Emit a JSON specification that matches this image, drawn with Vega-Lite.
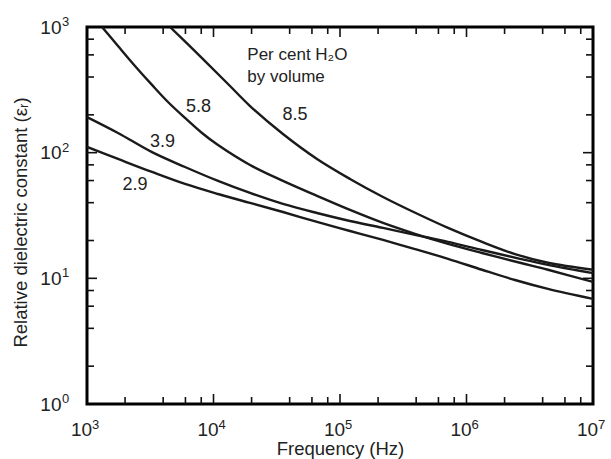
{
  "$schema": "https://vega.github.io/schema/vega-lite/v6.json",
  "width": 506,
  "height": 377,
  "autosize": "none",
  "padding": {"left": 87, "top": 27, "right": 18, "bottom": 55},
  "background": "white",
  "config": {
    "view": {"stroke": "black", "strokeWidth": 3},
    "font": "Liberation Sans",
    "text": {"font": "Liberation Sans"}
  },
  "datasets": {
    "curves": [
      {"water": "8.5", "freq": 4530, "eps": 1000},
      {"water": "8.5", "freq": 8110, "eps": 566},
      {"water": "8.5", "freq": 13030, "eps": 352},
      {"water": "8.5", "freq": 19450, "eps": 235},
      {"water": "8.5", "freq": 35400, "eps": 140.8},
      {"water": "8.5", "freq": 65800, "eps": 89.1},
      {"water": "8.5", "freq": 120000, "eps": 61.8},
      {"water": "8.5", "freq": 218800, "eps": 44.4},
      {"water": "8.5", "freq": 428600, "eps": 31.9},
      {"water": "8.5", "freq": 714500, "eps": 25.2},
      {"water": "8.5", "freq": 1327000, "eps": 19.5},
      {"water": "8.5", "freq": 2417000, "eps": 15.6},
      {"water": "8.5", "freq": 4406000, "eps": 13.3},
      {"water": "8.5", "freq": 10000000, "eps": 11.7},
      {"water": "5.8", "freq": 1314, "eps": 1000},
      {"water": "5.8", "freq": 1758, "eps": 706},
      {"water": "5.8", "freq": 2395, "eps": 490},
      {"water": "5.8", "freq": 3265, "eps": 346},
      {"water": "5.8", "freq": 4368, "eps": 253},
      {"water": "5.8", "freq": 5952, "eps": 189},
      {"water": "5.8", "freq": 8110, "eps": 143.5},
      {"water": "5.8", "freq": 10860, "eps": 115},
      {"water": "5.8", "freq": 19450, "eps": 79.8},
      {"water": "5.8", "freq": 35400, "eps": 59.6},
      {"water": "5.8", "freq": 65800, "eps": 45.3},
      {"water": "5.8", "freq": 120000, "eps": 35.0},
      {"water": "5.8", "freq": 218800, "eps": 27.6},
      {"water": "5.8", "freq": 391700, "eps": 22.6},
      {"water": "5.8", "freq": 714500, "eps": 18.8},
      {"water": "5.8", "freq": 1327000, "eps": 15.9},
      {"water": "5.8", "freq": 2649000, "eps": 13.3},
      {"water": "5.8", "freq": 4406000, "eps": 11.7},
      {"water": "5.8", "freq": 10000000, "eps": 9.36},
      {"water": "3.9", "freq": 1000, "eps": 192},
      {"water": "3.9", "freq": 1758, "eps": 143.5},
      {"water": "3.9", "freq": 3265, "eps": 101},
      {"water": "3.9", "freq": 5952, "eps": 76.9},
      {"water": "3.9", "freq": 10860, "eps": 59.6},
      {"water": "3.9", "freq": 19450, "eps": 47.8},
      {"water": "3.9", "freq": 35400, "eps": 39.1},
      {"water": "3.9", "freq": 65800, "eps": 33.1},
      {"water": "3.9", "freq": 120000, "eps": 28.6},
      {"water": "3.9", "freq": 218800, "eps": 25.2},
      {"water": "3.9", "freq": 391700, "eps": 22.2},
      {"water": "3.9", "freq": 714500, "eps": 19.5},
      {"water": "3.9", "freq": 1327000, "eps": 16.8},
      {"water": "3.9", "freq": 2649000, "eps": 14.3},
      {"water": "3.9", "freq": 4406000, "eps": 12.8},
      {"water": "3.9", "freq": 10000000, "eps": 11.0},
      {"water": "2.9", "freq": 1000, "eps": 111},
      {"water": "2.9", "freq": 1758, "eps": 89.1},
      {"water": "2.9", "freq": 3265, "eps": 70.2},
      {"water": "2.9", "freq": 5952, "eps": 56.4},
      {"water": "2.9", "freq": 10860, "eps": 46.9},
      {"water": "2.9", "freq": 19450, "eps": 39.8},
      {"water": "2.9", "freq": 35400, "eps": 33.7},
      {"water": "2.9", "freq": 65800, "eps": 28.1},
      {"water": "2.9", "freq": 120000, "eps": 23.8},
      {"water": "2.9", "freq": 218800, "eps": 20.2},
      {"water": "2.9", "freq": 391700, "eps": 17.1},
      {"water": "2.9", "freq": 714500, "eps": 14.3},
      {"water": "2.9", "freq": 1327000, "eps": 11.7},
      {"water": "2.9", "freq": 2417000, "eps": 9.7},
      {"water": "2.9", "freq": 4406000, "eps": 8.24},
      {"water": "2.9", "freq": 10000000, "eps": 6.86}
    ],
    "ticksegs": [
      {"seg": "b2e3", "freq": 2000, "eps": 1}, {"seg": "b2e3", "freq": 2000, "eps": 1.137},
      {"seg": "b4e3", "freq": 4000, "eps": 1}, {"seg": "b4e3", "freq": 4000, "eps": 1.137},
      {"seg": "b6e3", "freq": 6000, "eps": 1}, {"seg": "b6e3", "freq": 6000, "eps": 1.137},
      {"seg": "b8e3", "freq": 8000, "eps": 1}, {"seg": "b8e3", "freq": 8000, "eps": 1.137},
      {"seg": "b1e4", "freq": 10000, "eps": 1}, {"seg": "b1e4", "freq": 10000, "eps": 1.201},
      {"seg": "b2e4", "freq": 20000, "eps": 1}, {"seg": "b2e4", "freq": 20000, "eps": 1.137},
      {"seg": "b4e4", "freq": 40000, "eps": 1}, {"seg": "b4e4", "freq": 40000, "eps": 1.137},
      {"seg": "b6e4", "freq": 60000, "eps": 1}, {"seg": "b6e4", "freq": 60000, "eps": 1.137},
      {"seg": "b8e4", "freq": 80000, "eps": 1}, {"seg": "b8e4", "freq": 80000, "eps": 1.137},
      {"seg": "b1e5", "freq": 100000, "eps": 1}, {"seg": "b1e5", "freq": 100000, "eps": 1.201},
      {"seg": "b2e5", "freq": 200000, "eps": 1}, {"seg": "b2e5", "freq": 200000, "eps": 1.137},
      {"seg": "b4e5", "freq": 400000, "eps": 1}, {"seg": "b4e5", "freq": 400000, "eps": 1.137},
      {"seg": "b6e5", "freq": 600000, "eps": 1}, {"seg": "b6e5", "freq": 600000, "eps": 1.137},
      {"seg": "b8e5", "freq": 800000, "eps": 1}, {"seg": "b8e5", "freq": 800000, "eps": 1.137},
      {"seg": "b1e6", "freq": 1000000, "eps": 1}, {"seg": "b1e6", "freq": 1000000, "eps": 1.201},
      {"seg": "b2e6", "freq": 2000000, "eps": 1}, {"seg": "b2e6", "freq": 2000000, "eps": 1.137},
      {"seg": "b4e6", "freq": 4000000, "eps": 1}, {"seg": "b4e6", "freq": 4000000, "eps": 1.137},
      {"seg": "b6e6", "freq": 6000000, "eps": 1}, {"seg": "b6e6", "freq": 6000000, "eps": 1.137},
      {"seg": "b8e6", "freq": 8000000, "eps": 1}, {"seg": "b8e6", "freq": 8000000, "eps": 1.137},
      {"seg": "t2e3", "freq": 2000, "eps": 1000}, {"seg": "t2e3", "freq": 2000, "eps": 879.5},
      {"seg": "t4e3", "freq": 4000, "eps": 1000}, {"seg": "t4e3", "freq": 4000, "eps": 879.5},
      {"seg": "t6e3", "freq": 6000, "eps": 1000}, {"seg": "t6e3", "freq": 6000, "eps": 879.5},
      {"seg": "t8e3", "freq": 8000, "eps": 1000}, {"seg": "t8e3", "freq": 8000, "eps": 879.5},
      {"seg": "t1e4", "freq": 10000, "eps": 1000}, {"seg": "t1e4", "freq": 10000, "eps": 832.7},
      {"seg": "t2e4", "freq": 20000, "eps": 1000}, {"seg": "t2e4", "freq": 20000, "eps": 879.5},
      {"seg": "t4e4", "freq": 40000, "eps": 1000}, {"seg": "t4e4", "freq": 40000, "eps": 879.5},
      {"seg": "t6e4", "freq": 60000, "eps": 1000}, {"seg": "t6e4", "freq": 60000, "eps": 879.5},
      {"seg": "t8e4", "freq": 80000, "eps": 1000}, {"seg": "t8e4", "freq": 80000, "eps": 879.5},
      {"seg": "t1e5", "freq": 100000, "eps": 1000}, {"seg": "t1e5", "freq": 100000, "eps": 832.7},
      {"seg": "t2e5", "freq": 200000, "eps": 1000}, {"seg": "t2e5", "freq": 200000, "eps": 879.5},
      {"seg": "t4e5", "freq": 400000, "eps": 1000}, {"seg": "t4e5", "freq": 400000, "eps": 879.5},
      {"seg": "t6e5", "freq": 600000, "eps": 1000}, {"seg": "t6e5", "freq": 600000, "eps": 879.5},
      {"seg": "t8e5", "freq": 800000, "eps": 1000}, {"seg": "t8e5", "freq": 800000, "eps": 879.5},
      {"seg": "t1e6", "freq": 1000000, "eps": 1000}, {"seg": "t1e6", "freq": 1000000, "eps": 832.7},
      {"seg": "t2e6", "freq": 2000000, "eps": 1000}, {"seg": "t2e6", "freq": 2000000, "eps": 879.5},
      {"seg": "t4e6", "freq": 4000000, "eps": 1000}, {"seg": "t4e6", "freq": 4000000, "eps": 879.5},
      {"seg": "t6e6", "freq": 6000000, "eps": 1000}, {"seg": "t6e6", "freq": 6000000, "eps": 879.5},
      {"seg": "t8e6", "freq": 8000000, "eps": 1000}, {"seg": "t8e6", "freq": 8000000, "eps": 879.5},
      {"seg": "l2e0", "freq": 1000, "eps": 2}, {"seg": "l2e0", "freq": 1136, "eps": 2},
      {"seg": "l4e0", "freq": 1000, "eps": 4}, {"seg": "l4e0", "freq": 1136, "eps": 4},
      {"seg": "l6e0", "freq": 1000, "eps": 6}, {"seg": "l6e0", "freq": 1136, "eps": 6},
      {"seg": "l8e0", "freq": 1000, "eps": 8}, {"seg": "l8e0", "freq": 1136, "eps": 8},
      {"seg": "l1e1", "freq": 1000, "eps": 10}, {"seg": "l1e1", "freq": 1200, "eps": 10},
      {"seg": "l2e1", "freq": 1000, "eps": 20}, {"seg": "l2e1", "freq": 1136, "eps": 20},
      {"seg": "l4e1", "freq": 1000, "eps": 40}, {"seg": "l4e1", "freq": 1136, "eps": 40},
      {"seg": "l6e1", "freq": 1000, "eps": 60}, {"seg": "l6e1", "freq": 1136, "eps": 60},
      {"seg": "l8e1", "freq": 1000, "eps": 80}, {"seg": "l8e1", "freq": 1136, "eps": 80},
      {"seg": "l1e2", "freq": 1000, "eps": 100}, {"seg": "l1e2", "freq": 1200, "eps": 100},
      {"seg": "l2e2", "freq": 1000, "eps": 200}, {"seg": "l2e2", "freq": 1136, "eps": 200},
      {"seg": "l4e2", "freq": 1000, "eps": 400}, {"seg": "l4e2", "freq": 1136, "eps": 400},
      {"seg": "l6e2", "freq": 1000, "eps": 600}, {"seg": "l6e2", "freq": 1136, "eps": 600},
      {"seg": "l8e2", "freq": 1000, "eps": 800}, {"seg": "l8e2", "freq": 1136, "eps": 800},
      {"seg": "r2e0", "freq": 10000000, "eps": 2}, {"seg": "r2e0", "freq": 8803000, "eps": 2},
      {"seg": "r4e0", "freq": 10000000, "eps": 4}, {"seg": "r4e0", "freq": 8803000, "eps": 4},
      {"seg": "r6e0", "freq": 10000000, "eps": 6}, {"seg": "r6e0", "freq": 8803000, "eps": 6},
      {"seg": "r8e0", "freq": 10000000, "eps": 8}, {"seg": "r8e0", "freq": 8803000, "eps": 8},
      {"seg": "r1e1", "freq": 10000000, "eps": 10}, {"seg": "r1e1", "freq": 8333000, "eps": 10},
      {"seg": "r2e1", "freq": 10000000, "eps": 20}, {"seg": "r2e1", "freq": 8803000, "eps": 20},
      {"seg": "r4e1", "freq": 10000000, "eps": 40}, {"seg": "r4e1", "freq": 8803000, "eps": 40},
      {"seg": "r6e1", "freq": 10000000, "eps": 60}, {"seg": "r6e1", "freq": 8803000, "eps": 60},
      {"seg": "r8e1", "freq": 10000000, "eps": 80}, {"seg": "r8e1", "freq": 8803000, "eps": 80},
      {"seg": "r1e2", "freq": 10000000, "eps": 100}, {"seg": "r1e2", "freq": 8333000, "eps": 100},
      {"seg": "r2e2", "freq": 10000000, "eps": 200}, {"seg": "r2e2", "freq": 8803000, "eps": 200},
      {"seg": "r4e2", "freq": 10000000, "eps": 400}, {"seg": "r4e2", "freq": 8803000, "eps": 400},
      {"seg": "r6e2", "freq": 10000000, "eps": 600}, {"seg": "r6e2", "freq": 8803000, "eps": 600},
      {"seg": "r8e2", "freq": 10000000, "eps": 800}, {"seg": "r8e2", "freq": 8803000, "eps": 800}
    ],
    "numlabels": [
      {"label": "5.8", "freq": 7600, "eps": 230},
      {"label": "8.5", "freq": 44000, "eps": 200},
      {"label": "3.9", "freq": 3950, "eps": 122},
      {"label": "2.9", "freq": 2400, "eps": 55.3}
    ],
    "note": [
      {"label": "Per cent H₂O", "freq": 18500, "eps": 546},
      {"label": "by volume", "freq": 18500, "eps": 365}
    ],
    "xexp": [
      {"freq": 1000, "eps": 1, "exp": "3"},
      {"freq": 10000, "eps": 1, "exp": "4"},
      {"freq": 100000, "eps": 1, "exp": "5"},
      {"freq": 1000000, "eps": 1, "exp": "6"},
      {"freq": 10000000, "eps": 1, "exp": "7"}
    ],
    "yexp": [
      {"freq": 1000, "eps": 1, "exp": "0"},
      {"freq": 1000, "eps": 10, "exp": "1"},
      {"freq": 1000, "eps": 100, "exp": "2"},
      {"freq": 1000, "eps": 1000, "exp": "3"}
    ]
  },
  "layer": [
    {
      "data": {"name": "curves"},
      "mark": {"type": "line", "color": "#1a1a1a", "strokeWidth": 2.4, "interpolate": "catmull-rom", "clip": true},
      "encoding": {
        "x": {
          "field": "freq", "type": "quantitative",
          "scale": {"type": "log", "domain": [1000, 10000000], "nice": false},
          "axis": {
            "orient": "bottom", "ticks": false,
            "values": [1000, 10000, 100000, 1000000, 10000000],
            "labelExpr": "'10'",
            "domain": false, "grid": false,
            "labelFontSize": 19, "labelColor": "#222", "labelPadding": 16, "labelOffset": -6,
            "labelFlush": false, "labelOverlap": false,
            "title": "Frequency (Hz)", "titleFontSize": 18.5, "titleFontWeight": "normal", "titleColor": "#222",
            "titleX": 253, "titleY": 44, "titleBaseline": "middle", "titleAlign": "center"
          }
        },
        "y": {
          "field": "eps", "type": "quantitative",
          "scale": {"type": "log", "domain": [1, 1000], "nice": false},
          "axis": {
            "orient": "left", "ticks": false,
            "values": [1, 10, 100, 1000],
            "labelExpr": "'10'",
            "domain": false, "grid": false,
            "labelFontSize": 19, "labelColor": "#222", "labelPadding": 26,
            "labelFlush": false, "labelOverlap": false,
            "title": "Relative dielectric constant (εᵣ)", "titleFontSize": 18.5, "titleFontWeight": "normal", "titleColor": "#222",
            "titleX": -67, "titleY": 195, "titleAngle": -90, "titleBaseline": "middle", "titleAlign": "center"
          }
        },
        "detail": {"field": "water", "type": "nominal"}
      }
    },
    {
      "data": {"name": "ticksegs"},
      "mark": {"type": "line", "color": "#111", "strokeWidth": 1.6, "clip": true},
      "encoding": {
        "x": {"field": "freq", "type": "quantitative"},
        "y": {"field": "eps", "type": "quantitative"},
        "detail": {"field": "seg", "type": "nominal"}
      }
    },
    {
      "data": {"name": "numlabels"},
      "mark": {"type": "text", "fontSize": 18, "color": "#222", "align": "center", "baseline": "middle"},
      "encoding": {
        "x": {"field": "freq", "type": "quantitative"},
        "y": {"field": "eps", "type": "quantitative"},
        "text": {"field": "label"}
      }
    },
    {
      "data": {"name": "xexp"},
      "mark": {"type": "text", "fontSize": 13, "color": "#222", "align": "left", "baseline": "alphabetic", "dx": 5, "dy": 25},
      "encoding": {
        "x": {"field": "freq", "type": "quantitative"},
        "y": {"field": "eps", "type": "quantitative"},
        "text": {"field": "exp"}
      }
    },
    {
      "data": {"name": "yexp"},
      "mark": {"type": "text", "fontSize": 13, "color": "#222", "align": "left", "baseline": "middle", "dx": -25, "dy": -5},
      "encoding": {
        "x": {"field": "freq", "type": "quantitative"},
        "y": {"field": "eps", "type": "quantitative"},
        "text": {"field": "exp"}
      }
    },
    {
      "data": {"name": "note"},
      "mark": {"type": "text", "fontSize": 17, "color": "#222", "align": "left", "baseline": "alphabetic"},
      "encoding": {
        "x": {"field": "freq", "type": "quantitative"},
        "y": {"field": "eps", "type": "quantitative"},
        "text": {"field": "label"}
      }
    }
  ]
}
